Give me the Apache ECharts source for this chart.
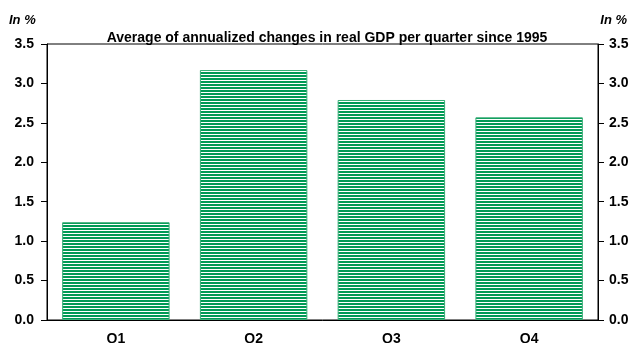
<!DOCTYPE html>
<html><head><meta charset="utf-8">
<script src="https://cdn.jsdelivr.net/npm/echarts@6/dist/echarts.min.js"></script>
<style>html,body{margin:0;padding:0;background:#fff}#c{width:629px;height:343px;position:relative}
#band1{position:absolute;left:0;top:0;width:629px;height:2px;background:#1b2f5e;z-index:2}
#band2{position:absolute;left:0;top:2px;width:629px;height:3px;background:#8b4a12;z-index:2}</style>
</head><body>
<div id="c"><div id="band1"></div><div id="band2"></div></div>
<script>
const categories = ['Q1', 'Q2', 'Q3', 'Q4'];
const values = [1.24, 3.17, 2.79, 2.57];
const yTicks = [0, 0.5, 1.0, 1.5, 2.0, 2.5, 3.0, 3.5];

const pc = document.createElement('canvas');
pc.width = 4; pc.height = 3;
const ctx = pc.getContext('2d');
ctx.fillStyle = '#ffffff'; ctx.fillRect(0, 0, 4, 3);
ctx.fillStyle = '#009a55'; ctx.fillRect(0, 0, 4, 2);

const chart = echarts.init(document.getElementById('c'), null, {renderer: 'canvas'});
const font = 'Liberation Sans, Arial, sans-serif';
function axis(pos, margin) {
  return {
    type: 'value', min: 0, max: 3.5, interval: 0.5, position: pos,
    axisLine: {show: true, lineStyle: {color: '#000', width: 1}},
    axisTick: {show: true, length: 6, lineStyle: {color: '#000'}},
    splitLine: {show: false},
    axisLabel: {color: '#000', fontWeight: 'bold', fontSize: 14, fontFamily: font, margin: margin,
      formatter: v => v.toFixed(1)}
  };
}
chart.setOption({
  animation: false,
  graphic: [
    {type: 'text', left: 9, top: 14, style: {text: 'In %', font: 'italic bold 13px ' + font, fill: '#000'}},
    {type: 'text', right: 2, top: 14, style: {text: 'In %', font: 'italic bold 13px ' + font, fill: '#000'}}
  ],
  title: {text: 'Average of annualized changes in real GDP per quarter since 1995', left: 322, textAlign: 'center', top: 26,
    textStyle: {fontSize: 14, fontWeight: 'bold', fontFamily: font, color: '#000'}},
  grid: {left: 47, right: 31, top: 44, bottom: 23, containLabel: false, outerBoundsMode: 'none',
    show: true, borderColor: '#000', borderWidth: 1, backgroundColor: 'transparent'},
  xAxis: {type: 'category', data: categories,
    axisLine: {show: true, lineStyle: {color: '#000'}}, axisTick: {show: false},
    axisLabel: {color: '#000', fontWeight: 'bold', fontSize: 14, fontFamily: font, margin: 12}},
  yAxis: [axis('left', 13), axis('right', 11)],
  series: [{type: 'bar', data: values, barCategoryGap: '22%',
    itemStyle: {color: {image: pc, repeat: 'repeat'}, borderColor: '#3aae78', borderWidth: 1}}]
});
</script>
</body></html>
